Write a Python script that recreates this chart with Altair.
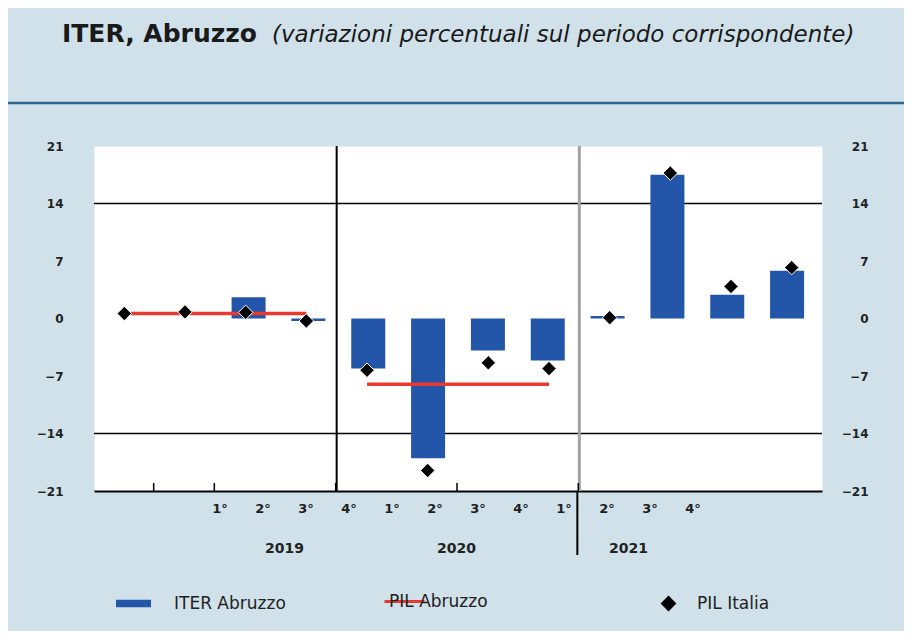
import altair as alt
import pandas as pd

# ---------------- data ----------------
quarters = ["1°", "2°", "3°", "4°", "1°", "2°", "3°", "4°", "1°", "2°", "3°", "4°"]
years = ["2019"] * 4 + ["2020"] * 4 + ["2021"] * 4
iter_abruzzo = [None, None, 2.6, -0.3, -6.1, -17.0, -3.9, -5.1, 0.3, 17.5, 2.9, 5.8]
pil_italia = [0.6, 0.8, 0.75, -0.3, -6.3, -18.5, -5.4, -6.1, 0.1, 17.7, 3.9, 6.2]
pil_abruzzo_years = ["2019", "2020"]
pil_abruzzo = [0.6, -8.0]
y_ticks = [-21, -14, -7, 0, 7, 14, 21]
grid_values = [14, -14]
tick_between = [0.5, 1.5, 3.5, 5.5, 7.5]
title_main = "ITER, Abruzzo"
title_sub = "(variazioni percentuali sul periodo corrispondente)"
series_names = ["ITER Abruzzo", "PIL Abruzzo", "PIL Italia"]

# ---------------- tables ----------------
df = pd.DataFrame({
    "idx": list(range(len(quarters))),
    "quarter": quarters,
    "year": years,
    "iter": iter_abruzzo,
    "ita": pil_italia,
})
df["s_iter"] = series_names[0]
df["s_ita"] = series_names[2]
df_bars = df.dropna(subset=["iter"])

span = df.groupby("year")["idx"].agg(["min", "max"]).reset_index()
df_abr = pd.DataFrame({"year": pil_abruzzo_years, "val": pil_abruzzo}).merge(span, on="year")
df_abr["s_abr"] = series_names[1]

df_years = df.groupby("year")["idx"].mean().reset_index().rename(columns={"idx": "lpos"})
df_q = df[["idx", "quarter"]].rename(columns={"idx": "lpos"})

df_grid = pd.DataFrame({"g": grid_values})
df_ticks = pd.DataFrame({"t": tick_between})
sep_pos = (span["min"] - 0.5).tolist()[1:]
df_sep_black = pd.DataFrame({"s": sep_pos[:1]})
df_sep_gray = pd.DataFrame({"s": sep_pos[1:]})
df_title = pd.DataFrame({"main": [title_main], "sub": [title_sub]})

# ---------------- styling ----------------
W, H = 728, 345
FONT = "DejaVu Sans"
BLUE = "#2356a8"
RED = "#e8392f"
BG = "#d0e1ea"
LEG_FS = 17

xscale = alt.Scale(domain=[-0.5, 11.5], nice=False, zero=False)
yscale = alt.Scale(domain=[-21, 21], nice=False, zero=False)
lscale = alt.Scale(domain=[-2.93, 14.0], nice=False, zero=False)

grid = alt.Chart(df_grid).mark_rule(color="black", strokeWidth=1.5).encode(
    y=alt.Y("g:Q", scale=yscale, axis=None)
)

sep1 = alt.Chart(df_sep_black).mark_rule(color="black", strokeWidth=2).encode(
    x=alt.X("s:Q", scale=xscale, axis=None)
)
sep2 = alt.Chart(df_sep_gray).mark_rule(color="#a3a3a3", strokeWidth=3).encode(
    x=alt.X("s:Q", scale=xscale, axis=None)
)
sep2b = alt.Chart(df_sep_gray).mark_rule(color="black", strokeWidth=2, xOffset=-2).encode(
    x=alt.X("s:Q", scale=xscale, axis=None),
    y=alt.value(H),
    y2=alt.value(H + 64),
)

bars = alt.Chart(df_bars).mark_bar(size=34).encode(
    x=alt.X("idx:Q", scale=xscale,
            axis=alt.Axis(domain=True, domainColor="black", domainWidth=2, ticks=False,
                          labels=False, grid=False, title=None)),
    y=alt.Y("iter:Q", scale=yscale,
            axis=alt.Axis(orient="left", values=y_ticks, grid=False, domain=False, ticks=False,
                          labelPadding=31, labelFont=FONT, labelFontSize=12, labelFontWeight="bold",
                          labelColor="#222222", title=None)),
    fill=alt.Fill("s_iter:N", scale=alt.Scale(range=[BLUE]),
                  legend=alt.Legend(orient="none", legendX=22, legendY=440, title=None, padding=0,
                                    symbolType="M-1,-0.22H1V0.22H-1Z", symbolSize=1225,
                                    symbolStrokeWidth=0, labelFont=FONT, labelFontSize=LEG_FS,
                                    labelColor="#222222", labelOffset=23)),
)

ticks = alt.Chart(df_ticks).mark_rule(color="black", strokeWidth=1.5, xOffset=-1).encode(
    x=alt.X("t:Q", scale=xscale, axis=None),
    y=alt.value(H),
    y2=alt.value(H - 8),
)

redline = alt.Chart(df_abr).mark_rule(strokeWidth=3.5).encode(
    x=alt.X("min:Q", scale=xscale, axis=None),
    x2="max:Q",
    y=alt.Y("val:Q", scale=yscale, axis=None),
    stroke=alt.Stroke("s_abr:N", scale=alt.Scale(range=[RED]),
                      legend=alt.Legend(orient="none", legendX=278, legendY=447, title=None, padding=0,
                                        symbolType="M2,0H22", symbolSize=16, symbolStrokeWidth=3,
                                        symbolFillColor="transparent",
                                        labelFont=FONT, labelFontSize=LEG_FS, labelColor="#222222",
                                        labelOffset=0)),
)

points = alt.Chart(df).mark_point(filled=True, fill="black", stroke="white", strokeWidth=1,
                                  size=210, opacity=1).encode(
    x=alt.X("idx:Q", scale=xscale, axis=None),
    y=alt.Y("ita:Q", scale=yscale,
            axis=alt.Axis(orient="right", values=y_ticks, grid=False, domain=False, ticks=False,
                          labelAlign="right", labelPadding=46, labelFont=FONT, labelFontSize=12,
                          labelFontWeight="bold", labelColor="#222222", title=None)),
    shape=alt.Shape("s_ita:N", scale=alt.Scale(range=["diamond"]),
                    legend=alt.Legend(orient="none", legendX=566, legendY=449, title=None, padding=0,
                                      symbolSize=250, symbolFillColor="black", symbolStrokeColor="white",
                                      symbolStrokeWidth=1, labelFont=FONT, labelFontSize=LEG_FS,
                                      labelColor="#222222", labelOffset=20)),
)

qlabels = alt.Chart(df_q).mark_text(font=FONT, fontSize=13, fontWeight="bold", color="#222222",
                                    baseline="middle").encode(
    x=alt.X("lpos:Q", scale=lscale, axis=None),
    y=alt.value(363),
    text="quarter:N",
)
ylabels = alt.Chart(df_years).mark_text(font=FONT, fontSize=14, fontWeight="bold", color="#222222",
                                        baseline="middle").encode(
    x=alt.X("lpos:Q", scale=lscale, axis=None),
    y=alt.value(403),
    text="year:N",
)

t_main = alt.Chart(df_title).mark_text(font=FONT, fontSize=25, fontWeight="bold", color="#1a1a1a",
                                       align="left", baseline="middle").encode(
    x=alt.value(-32), y=alt.value(-112), text="main:N")
t_sub = alt.Chart(df_title).mark_text(font=FONT, fontSize=23, fontStyle="italic", color="#1a1a1a",
                                      align="left", baseline="middle").encode(
    x=alt.value(178), y=alt.value(-111), text="sub:N")
hline = alt.Chart(df_title).mark_rule(color="#2d6a8c", strokeWidth=2.5).encode(
    x=alt.value(-90), x2=alt.value(812), y=alt.value(-43))

chart = alt.layer(
    grid, sep1, sep2, sep2b, bars, ticks, redline, points, qlabels, ylabels, t_main, t_sub, hline
).resolve_scale(
    x="independent", fill="independent", stroke="independent", shape="independent"
).resolve_axis(
    y="independent"
).properties(
    width=W, height=H, background=BG,
    autosize=alt.AutoSizeParams(type="none"),
    padding={"left": 86, "top": 138, "right": 82, "bottom": 140},
).configure_view(fill="white", stroke="transparent")

chart.save("out.html", embed_options={"renderer": "svg", "actions": False})
